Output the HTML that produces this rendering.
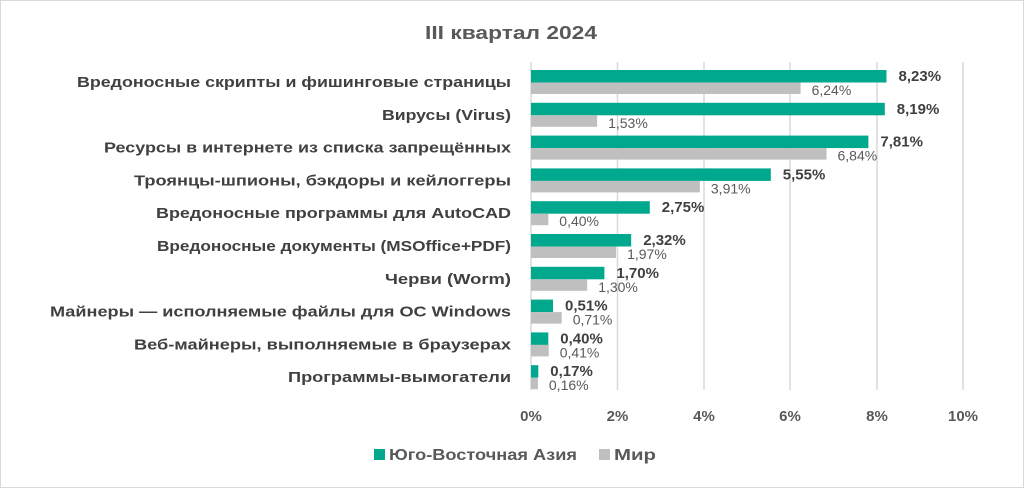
<!DOCTYPE html><html><head><meta charset="utf-8"><style>body{margin:0;background:#fff}svg{display:block}</style></head><body>
<svg width="1024" height="488" xmlns="http://www.w3.org/2000/svg" font-family="Liberation Sans, DejaVu Sans, sans-serif">
<rect x="0.5" y="0.5" width="1023" height="487" fill="#fff" stroke="#d9d9d9"/>
<text x="425" y="39" font-size="18" font-weight="bold" fill="#595959" textLength="172" lengthAdjust="spacingAndGlyphs">III квартал 2024</text>
<g stroke="#d9d9d9" stroke-width="1.5">
<line x1="531" y1="62" x2="531" y2="390"/><line x1="617.5" y1="62" x2="617.5" y2="390"/><line x1="704" y1="62" x2="704" y2="390"/><line x1="790" y1="62" x2="790" y2="390"/><line x1="877" y1="62" x2="877" y2="390"/><line x1="963" y1="62" x2="963" y2="390"/>
</g>
<g font-size="15" font-weight="bold" fill="#595959" text-anchor="middle">
<text x="531" y="421">0%</text><text x="617.5" y="421">2%</text><text x="704" y="421">4%</text><text x="790" y="421">6%</text><text x="877" y="421">8%</text><text x="963" y="421">10%</text>
</g>
<g fill="#00a88e">
<rect x="531" y="70" width="355.5" height="12.5"/>
<rect x="531" y="102.8" width="353.8" height="12.5"/>
<rect x="531" y="135.6" width="337.4" height="12.5"/>
<rect x="531" y="168.4" width="239.8" height="12.5"/>
<rect x="531" y="201.2" width="118.8" height="12.5"/>
<rect x="531" y="234" width="100.2" height="12.5"/>
<rect x="531" y="266.8" width="73.4" height="12.5"/>
<rect x="531" y="299.6" width="22" height="12.5"/>
<rect x="531" y="332.4" width="17.3" height="12.5"/>
<rect x="531" y="365.2" width="7.3" height="12.5"/>
</g>
<g fill="#bfbfbf">
<rect x="531" y="82.5" width="269.6" height="11.5"/>
<rect x="531" y="115.3" width="66.1" height="11.5"/>
<rect x="531" y="148.1" width="295.5" height="11.5"/>
<rect x="531" y="180.9" width="168.9" height="11.5"/>
<rect x="531" y="213.7" width="17.3" height="11.5"/>
<rect x="531" y="246.5" width="85.1" height="11.5"/>
<rect x="531" y="279.3" width="56.2" height="11.5"/>
<rect x="531" y="312.1" width="30.7" height="11.5"/>
<rect x="531" y="344.9" width="17.7" height="11.5"/>
<rect x="531" y="377.7" width="6.9" height="11.5"/>
</g>
<g font-size="15" font-weight="bold" fill="#404040" text-anchor="end" lengthAdjust="spacingAndGlyphs">
<text x="511" y="87" textLength="434" lengthAdjust="spacingAndGlyphs">Вредоносные скрипты и фишинговые страницы</text>
<text x="511" y="119.8" textLength="129" lengthAdjust="spacingAndGlyphs">Вирусы (Virus)</text>
<text x="511" y="152.6" textLength="407" lengthAdjust="spacingAndGlyphs">Ресурсы в интернете из списка запрещённых</text>
<text x="511" y="185.4" textLength="377" lengthAdjust="spacingAndGlyphs">Троянцы-шпионы, бэкдоры и кейлоггеры</text>
<text x="511" y="218.2" textLength="355" lengthAdjust="spacingAndGlyphs">Вредоносные программы для AutoCAD</text>
<text x="511" y="251" textLength="354" lengthAdjust="spacingAndGlyphs">Вредоносные документы (MSOffice+PDF)</text>
<text x="511" y="283.8" textLength="126" lengthAdjust="spacingAndGlyphs">Черви (Worm)</text>
<text x="511" y="316.6" textLength="461" lengthAdjust="spacingAndGlyphs">Майнеры — исполняемые файлы для ОС Windows</text>
<text x="511" y="349.4" textLength="377" lengthAdjust="spacingAndGlyphs">Веб-майнеры, выполняемые в браузерах</text>
<text x="511" y="382.2" textLength="223" lengthAdjust="spacingAndGlyphs">Программы-вымогатели</text>
</g>
<g font-size="15" font-weight="bold" fill="#404040">
<text x="898.5" y="81">8,23%</text>
<text x="896.8" y="113.8">8,19%</text>
<text x="880.4" y="146.6">7,81%</text>
<text x="782.8" y="179.4">5,55%</text>
<text x="661.8" y="212.2">2,75%</text>
<text x="643.2" y="245">2,32%</text>
<text x="616.4" y="277.8">1,70%</text>
<text x="565" y="310.6">0,51%</text>
<text x="560.3" y="343.4">0,40%</text>
<text x="550.3" y="376.2">0,17%</text>
</g>
<g font-size="14" fill="#595959">
<text x="811.6" y="95">6,24%</text>
<text x="608.1" y="127.8">1,53%</text>
<text x="837.5" y="160.6">6,84%</text>
<text x="710.9" y="193.4">3,91%</text>
<text x="559.3" y="226.2">0,40%</text>
<text x="627.1" y="259">1,97%</text>
<text x="598.2" y="291.8">1,30%</text>
<text x="572.7" y="324.6">0,71%</text>
<text x="559.7" y="357.4">0,41%</text>
<text x="548.9" y="390.2">0,16%</text>
</g>
<rect x="374" y="449" width="11" height="11" fill="#00a88e"/>
<text x="389" y="460" font-size="16" font-weight="bold" fill="#595959" textLength="188" lengthAdjust="spacingAndGlyphs">Юго-Восточная  Азия</text>
<rect x="599" y="449" width="11" height="11" fill="#bfbfbf"/>
<text x="614" y="460" font-size="16" font-weight="bold" fill="#595959" textLength="42" lengthAdjust="spacingAndGlyphs">Мир</text>
</svg>
</body></html>
